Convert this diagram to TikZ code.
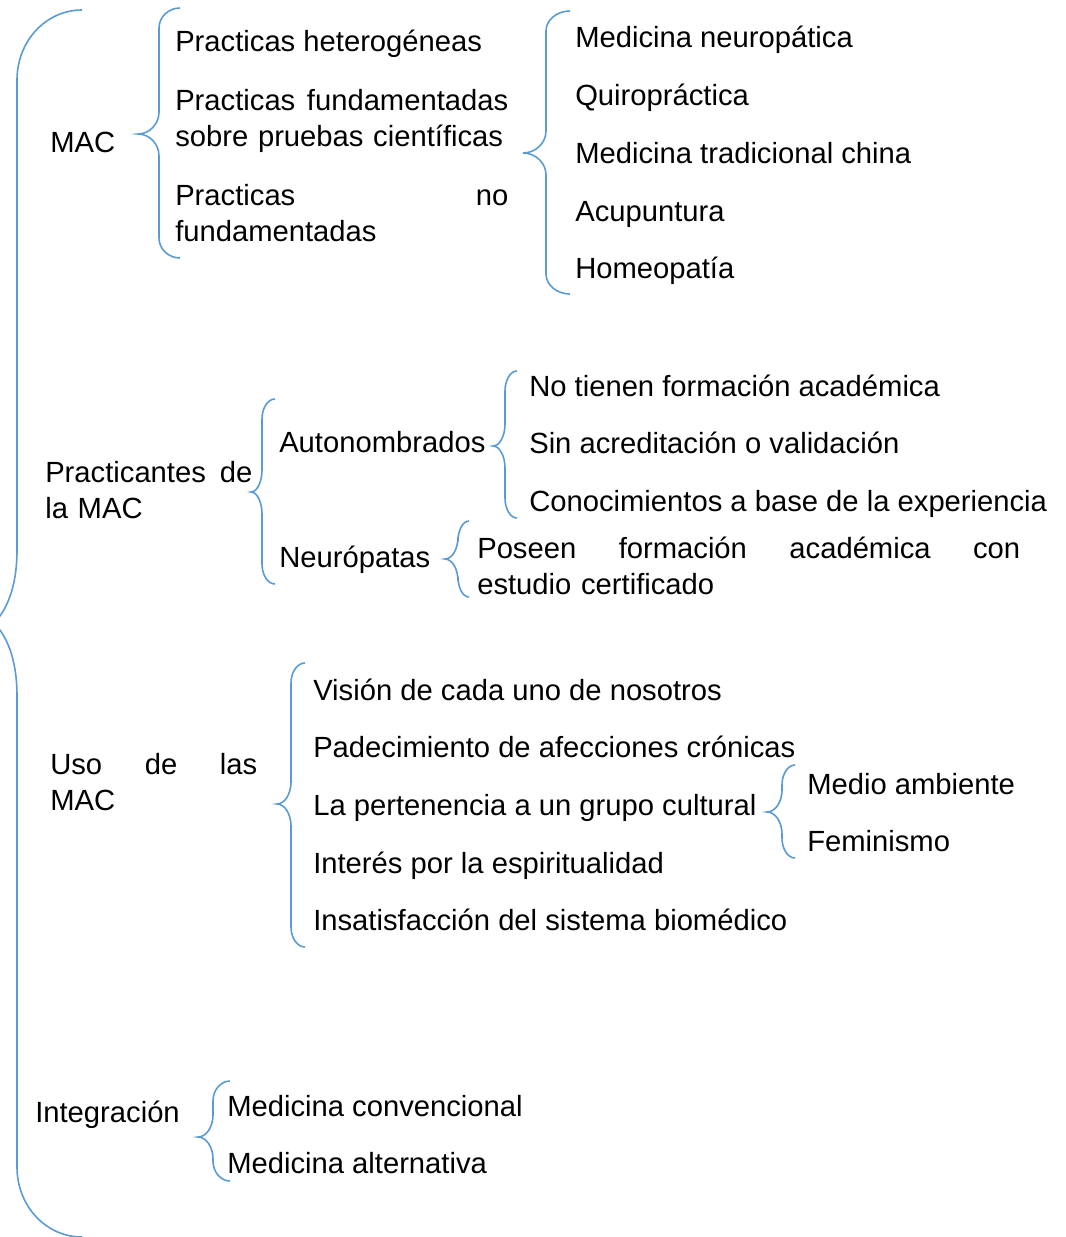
\documentclass[tikz,border=0pt]{standalone}
\usepackage{fontspec}
\setmainfont{Liberation Sans}
\definecolor{bracecol}{RGB}{91,155,213}
\tikzset{curl/.style={draw=bracecol,line width=1.2pt},
  entry/.style={text height=15.7pt,text depth=0pt},
  block/.style={text width=#1*0.75pt,align=left}}
% brace: tip x, line x, end x, top y, tip y, bottom y
\newcommand{\curly}[6]{%
  \draw[curl] (#3,#4) .. controls ({#3-0.55*(#3-#2)},#4) and (#2,{#4+9}) .. (#2,{#4+20})
    -- (#2,{#5-22}) .. controls (#2,{#5-10}) and ({#1+0.55*(#2-#1)},#5) .. (#1,#5)
    .. controls ({#1+0.55*(#2-#1)},#5) and (#2,{#5+10}) .. (#2,{#5+22})
    -- (#2,{#6-20}) .. controls (#2,{#6-9}) and ({#3-0.55*(#3-#2)},#6) .. (#3,#6);}
\begin{document}
\begin{tikzpicture}[x=0.75pt,y=-0.75pt,
  every node/.style={anchor=west,inner sep=0pt,font=\fontsize{21.9}{27.5}\selectfont}]
  \clip (0,0) rectangle (1065,1237);

  % MAC
  \node[entry] (mac) at (50,142) {MAC};
  \node[entry] (het) at (175,41) {Practicas heterogéneas};
  \node[block=333] (fund) at (175,121) {Practicas\hfill fundamentadas\\sobre pruebas científicas};
  \node[block=333] (nofund) at (175,213) {Practicas\hfill no\\fundamentadas};
  \node[entry] (neuro) at (575,37) {Medicina neuropática};
  \node[entry] (quiro) at (575,95) {Quiropráctica};
  \node[entry] (china) at (575,153) {Medicina tradicional china};
  \node[entry] (acu) at (575,211) {Acupuntura};
  \node[entry] (homeo) at (575,268) {Homeopatía};

  % Practicantes
  \node[block=207] (pract) at (45,490) {Practicantes\hfill de\\la MAC};
  \node[entry] (auto) at (279,442) {Autonombrados};
  \node[entry] (neurop) at (279,557) {Neurópatas};
  \node[entry] (noform) at (529,386) {No tienen formación académica};
  \node[entry] (sinacr) at (529,443) {Sin acreditación o validación};
  \node[entry] (conoc) at (529,501) {Conocimientos a base de la experiencia};
  \node[block=543] (poseen) at (477,566) {Poseen\hfill formación\hfill académica\hfill con\\estudio certificado};

  % Uso
  \node[block=207] (uso) at (50,782) {Uso\hfill de\hfill las\\MAC};
  \node[entry] (vision) at (313,690) {Visión de cada uno de nosotros};
  \node[entry] (padec) at (313,747) {Padecimiento de afecciones crónicas};
  \node[entry] (perten) at (313,805) {La pertenencia a un grupo cultural};
  \node[entry] (espir) at (313,863) {Interés por la espiritualidad};
  \node[entry] (insat) at (313,920) {Insatisfacción del sistema biomédico};
  \node[entry] (medio) at (807,784) {Medio ambiente};
  \node[entry] (femin) at (807,841) {Feminismo};

  % Integracion
  \node[entry] (integ) at (35,1112) {Integración};
  \node[entry] (conv) at (227,1106) {Medicina convencional};
  \node[entry] (alter) at (227,1163) {Medicina alternativa};

  % braces
  \draw[curl] (82,10) .. controls (46,10) and (17,41) .. (17,80)
    -- (17,550) .. controls (17,590) and (5,612) .. (-6,623)
    .. controls (5,634) and (17,656) .. (17,696)
    -- (17,1167) .. controls (17,1206) and (46,1237) .. (82,1237);
  \curly{138}{159}{180}{8}{134}{258}
  \curly{523}{546}{570}{11}{153}{294}
  \curly{251}{262}{275}{399}{492}{584}
  \curly{493}{505}{517}{371}{446}{518}
  \curly{445}{458}{469}{521}{559}{597}
  \curly{277}{291}{305}{663}{804}{947}
  \curly{767}{782}{795}{765}{812}{858}
  \curly{198}{213}{230}{1081}{1137}{1181}
\end{tikzpicture}
\end{document}
